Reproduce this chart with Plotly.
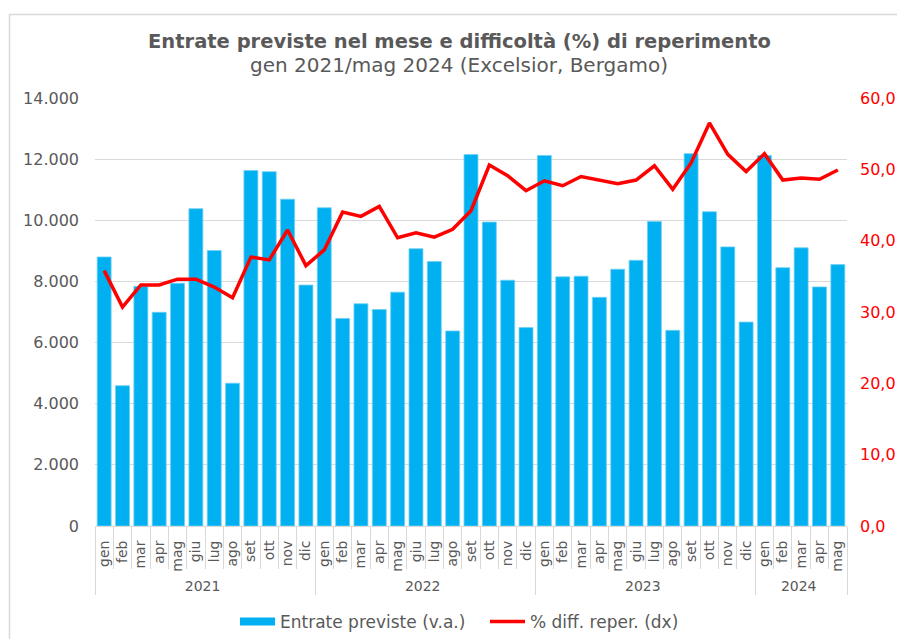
import plotly.graph_objects as go

months = ["gen", "feb", "mar", "apr", "mag", "giu", "lug", "ago", "set", "ott", "nov", "dic"] * 3 + \
         ["gen", "feb", "mar", "apr", "mag"]
years = ["2021"] * 12 + ["2022"] * 12 + ["2023"] * 12 + ["2024"] * 5

entrate = [8800, 4590, 7840, 6990, 7940, 10380, 9010, 4670, 11630, 11590, 10690, 7880,
           10410, 6790, 7270, 7080, 7650, 9070, 8650, 6380, 12150, 9940, 8040, 6490,
           12120, 8150, 8170, 7480, 8400, 8690, 9960, 6400, 12180, 10280, 9130, 6670,
           12120, 8450, 9100, 7820, 8550]

diff = [35.8, 30.7, 33.8, 33.8, 34.6, 34.6, 33.5, 32.0, 37.7, 37.3, 41.5, 36.5,
        38.7, 44.0, 43.4, 44.8, 40.4, 41.1, 40.5, 41.6, 44.2, 50.6, 49.1, 47.0,
        48.4, 47.7, 49.0, 48.5, 48.0, 48.5, 50.5, 47.2, 50.9, 56.5, 52.1, 49.7,
        52.2, 48.5, 48.8, 48.6, 49.9]

title_main = "Entrate previste nel mese e difficoltà (%) di reperimento"
title_sub = "gen 2021/mag 2024 (Excelsior, Bergamo)"
name_bar = "Entrate previste (v.a.)"
name_line = "% diff. reper. (dx)"

GRAY = "#595959"
GRID = "#D9D9D9"
BLUE = "#00B0F0"
RED = "#FF0000"
FONT = "DejaVu Sans"

fig = go.Figure()
fig.add_trace(go.Bar(
    x=[years, months], y=entrate, name=name_bar, showlegend=False,
    marker=dict(color=BLUE, line=dict(color="#6FD0F5", width=0.8)),
))
# legend swatch for the bars (wide flat rectangle, as in the original)
fig.add_trace(go.Scatter(
    x=[years[:1], months[:1]], y=[None], name=name_bar,
    mode="lines", line=dict(color=BLUE, width=8), hoverinfo="skip",
))
fig.add_trace(go.Scatter(
    x=[years, months], y=diff, name=name_line, yaxis="y2",
    mode="lines", line=dict(color=RED, width=3.5),
))

fig.update_layout(
    width=897, height=639,
    margin=dict(l=95, r=50, t=98, b=113),
    paper_bgcolor="white", plot_bgcolor="white",
    separators=",.",
    bargap=0.24,
    font=dict(family=FONT, color=GRAY, size=14),
    showlegend=True,
    legend=dict(orientation="h", x=(235 - 95) / 752, xanchor="left",
                yref="container", y=(639 - 622) / 639, yanchor="middle",
                font=dict(size=17, color=GRAY), itemwidth=35, traceorder="normal",
                entrywidth=200),
    xaxis=dict(
        type="multicategory", tickangle=-90, automargin=False,
        tickfont=dict(size=14, color=GRAY), ticklabelstandoff=8,
        showdividers=True, dividercolor=GRID, dividerwidth=1,
        ticks="outside", tickson="boundaries", ticklen=42, tickcolor=GRID,
        showline=True, linecolor=GRID, showgrid=False,
    ),
    yaxis=dict(
        range=[0, 14000], dtick=2000, tickformat=",d", automargin=False,
        gridcolor=GRID, gridwidth=1, zeroline=False,
        tickfont=dict(size=16, color=GRAY), ticklabelstandoff=15,
    ),
    yaxis2=dict(
        overlaying="y", side="right", range=[0, 60], dtick=10, tickformat=".1f",
        showgrid=False, zeroline=False, automargin=False,
        tickfont=dict(size=16, color=RED), ticklabelstandoff=12,
    ),
    annotations=[
        dict(text="<b>" + title_main + "</b>", xref="paper", yref="paper",
             x=0.4844, y=(526 - 42) / 428, xanchor="center", yanchor="middle",
             showarrow=False, font=dict(family=FONT, size=19.5, color=GRAY)),
        dict(text=title_sub, xref="paper", yref="paper",
             x=0.4844, y=(526 - 65) / 428, xanchor="center", yanchor="middle",
             showarrow=False, font=dict(family=FONT, size=20, color=GRAY)),
    ],
    shapes=[
        dict(type="rect", xref="paper", yref="paper",
             x0=(9.5 - 95) / 752, x1=1.3, y0=-0.6, y1=(526 - 14.5) / 428,
             line=dict(color=GRID, width=1.5), fillcolor="rgba(0,0,0,0)", layer="below"),
    ],
)

fig.write_html("out.html", config={"displayModeBar": False},
               post_script="document.body.style.margin='0';")
